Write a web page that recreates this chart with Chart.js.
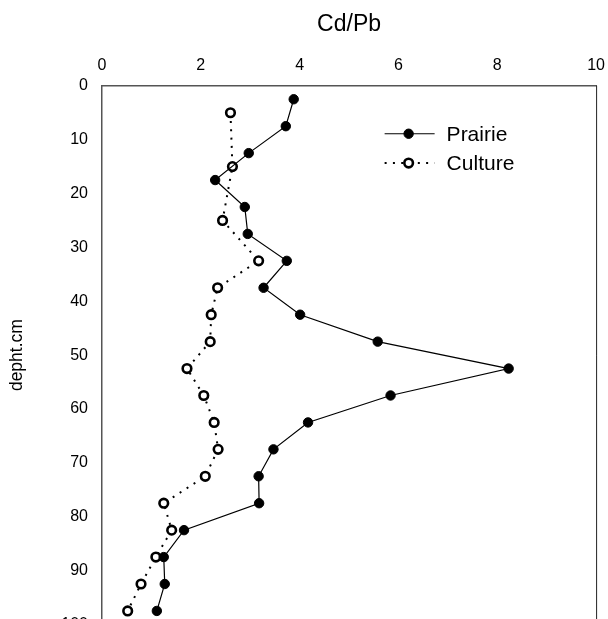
<!DOCTYPE html>
<html>
<head>
<meta charset="utf-8">
<script src="https://cdn.jsdelivr.net/npm/chart.js@4/dist/chart.umd.min.js"></script>
<style>
html,body{margin:0;padding:0;background:#fff;overflow:hidden;}
#wrap{width:608px;height:640px;}
</style>
</head>
<body>
<div id="wrap"><canvas id="c" width="608" height="640"></canvas></div>
<script>
const prairieDepth = [2.5,7.5,12.5,17.5,22.5,27.5,32.5,37.5,42.5,47.5,52.5,57.5,62.5,67.5,72.5,77.5,82.5,87.5,92.5,97.5];
const prairieRatio = [3.88,3.72,2.97,2.29,2.89,2.95,3.74,3.27,4.01,5.58,8.23,5.84,4.17,3.47,3.17,3.18,1.66,1.25,1.27,1.11];
const cultureDepth = [5,15,25,32.5,37.5,42.5,47.5,52.5,57.5,62.5,67.5,72.5,77.5,82.5,87.5,92.5,97.5];
const cultureRatio = [2.60,2.64,2.44,3.17,2.34,2.21,2.19,1.72,2.06,2.27,2.35,2.09,1.25,1.41,1.09,0.79,0.52];
const xTicks = [0,2,4,6,8,10];
const yTicks = [0,10,20,30,40,50,60,70,80,90,100];
const seriesNames = ['Prairie','Culture'];
const xTitle = 'Cd/Pb';
const yTitle = 'depht.cm';

const FONT = 'Arial, "Liberation Sans", sans-serif';

const boxPlugin = {
  id:'box',
  afterDatasetsDraw(chart){
    const {ctx, chartArea:a} = chart;
    ctx.save();
    ctx.strokeStyle = '#222';
    ctx.lineWidth = 1;
    ctx.beginPath();
    ctx.moveTo(a.right+0.5, a.top);
    ctx.lineTo(a.right+0.5, a.bottom);
    ctx.stroke();
    ctx.strokeStyle = '#555';
    ctx.lineWidth = 1.5;
    ctx.beginPath();
    ctx.moveTo(a.left, a.bottom);
    ctx.lineTo(a.right, a.bottom);
    ctx.stroke();
    ctx.restore();
  }
};

const legendPlugin = {
  id:'customLegend',
  afterDraw(chart){
    const {ctx, chartArea:a} = chart;
    const x0 = a.left + (a.right - a.left) * 0.572;
    const y0 = a.top + (a.bottom - a.top) * 0.089;
    const rowH = 29.3;
    ctx.save();
    chart.data.datasets.forEach((ds, i) => {
      const y = y0 + i*rowH;
      ctx.strokeStyle = '#000';
      ctx.lineWidth = ds.borderWidth;
      ctx.setLineDash(ds.borderDash || []);
      ctx.beginPath();
      ctx.moveTo(x0, y);
      ctx.lineTo(x0+50, y);
      ctx.stroke();
      ctx.setLineDash([]);
      ctx.beginPath();
      ctx.arc(x0+24, y, ds.pointRadius, 0, Math.PI*2);
      ctx.fillStyle = ds.pointBackgroundColor;
      ctx.fill();
      ctx.lineWidth = ds.pointBorderWidth;
      ctx.strokeStyle = ds.pointBorderColor;
      ctx.stroke();
      ctx.fillStyle = '#000';
      ctx.font = '21px ' + FONT;
      ctx.textBaseline = 'middle';
      ctx.textAlign = 'left';
      ctx.fillText(ds.label, x0+62, y+1);
    });
    ctx.restore();
  }
};

new Chart(document.getElementById('c'), {
  type:'scatter',
  data:{
    datasets:[
      {
        label: seriesNames[0],
        data: prairieDepth.map((d,i)=>({x:prairieRatio[i], y:d})),
        showLine:true,
        borderColor:'#000',
        borderWidth:1.2,
        pointRadius:4.7,
        pointBackgroundColor:'#000',
        pointBorderColor:'#000',
        pointBorderWidth:1,
        pointHoverRadius:4.7
      },
      {
        label: seriesNames[1],
        data: cultureDepth.map((d,i)=>({x:cultureRatio[i], y:d})),
        showLine:true,
        borderColor:'#000',
        borderWidth:2,
        borderDash:[2,6.3],
        pointRadius:4.3,
        pointBackgroundColor:'#fff',
        pointBorderColor:'#000',
        pointBorderWidth:2.6,
        pointHoverRadius:4.3
      }
    ]
  },
  options:{
    responsive:false,
    animation:false,
    events:[],
    layout:{padding:{top:11,left:7,right:1,bottom:15}},
    plugins:{legend:{display:false},tooltip:{enabled:false}},
    scales:{
      x:{
        type:'linear',
        position:'top',
        min:0,max:10,
        afterBuildTicks(s){ s.ticks = xTicks.map(v=>({value:v})); },
        grid:{display:false, drawTicks:true, tickLength:8, tickColor:'#555', tickWidth:1.5},
        border:{display:true,color:'#555',width:1.5},
        ticks:{color:'#000',font:{family:FONT,size:16},padding:3,maxRotation:0},
        title:{display:true,text:xTitle,color:'#000',font:{family:FONT,size:23},padding:{top:0,bottom:14}}
      },
      y:{
        type:'linear',
        reverse:true,
        min:0,max:100,
        afterBuildTicks(s){ s.ticks = yTicks.map(v=>({value:v})); },
        grid:{display:false, drawTicks:true, tickLength:8, tickColor:'#555', tickWidth:1.5},
        border:{display:true,color:'#555',width:1.5},
        ticks:{color:'#000',font:{family:FONT,size:16},padding:6},
        title:{display:true,text:yTitle,color:'#000',font:{family:FONT,size:17.5},padding:{top:0,bottom:27.3}}
      }
    }
  },
  plugins:[boxPlugin, legendPlugin]
});
</script>
</body>
</html>
